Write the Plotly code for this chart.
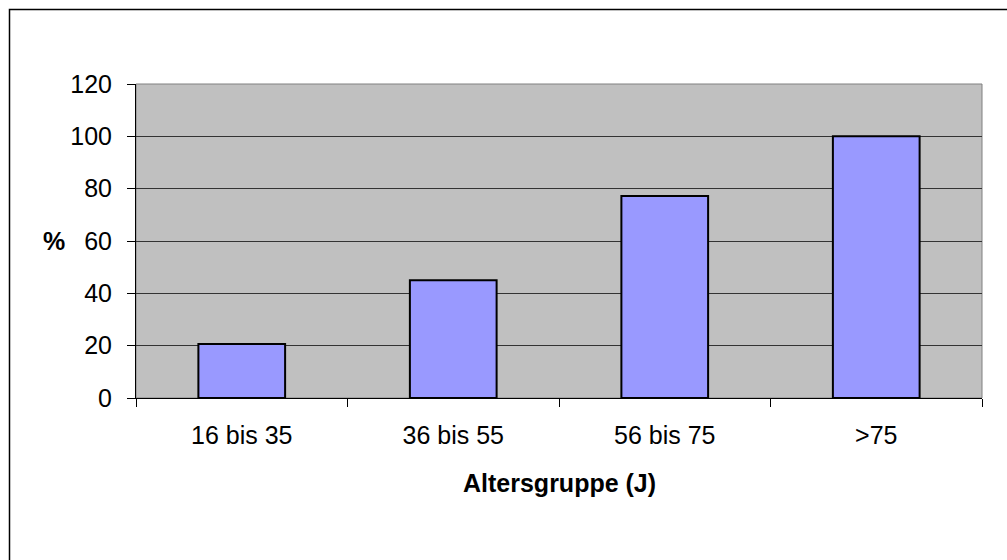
import plotly.graph_objects as go

categories = ["16 bis 35", "36 bis 55", "56 bis 75", ">75"]
values = [20.6, 45, 77.2, 100]
y_ticks = [0, 20, 40, 60, 80, 100, 120]

W, H = 1007, 560
L, R, T, B = 136, 25, 84, 162
pw, ph = W - L - R, H - T - B

def px_x(x):
    return (x - L) / pw

def px_y(y):
    return 1 - (y - T) / ph

FONT = "Liberation Sans, Arial, sans-serif"
FS = 25

fig = go.Figure(go.Bar(
    x=categories, y=values,
    marker=dict(color="#9999FF", line=dict(color="black", width=2)),
    width=0.41,
))

fig.update_layout(
    width=W, height=H,
    margin=dict(l=L, r=R, t=T, b=B, pad=0),
    paper_bgcolor="white", plot_bgcolor="#C0C0C0",
    font=dict(family=FONT, size=FS, color="black"),
    showlegend=False,
    xaxis=dict(
        type="category", tickson="boundaries", ticks="outside", ticklen=8,
        tickcolor="black", tickwidth=1, showline=True, linecolor="black", linewidth=1,
        showgrid=False, ticklabelstandoff=15, tickfont=dict(size=FS),
    ),
    yaxis=dict(
        range=[0, 120], tickvals=y_ticks, ticks="outside", ticklen=8,
        tickcolor="black", tickwidth=1, showline=True, linecolor="black", linewidth=1,
        showgrid=True, gridcolor="#333333", gridwidth=1, zeroline=False,
        ticklabelstandoff=10, tickfont=dict(size=FS),
    ),
    shapes=[
        dict(type="rect", xref="paper", yref="paper", x0=0, x1=1, y0=0, y1=1,
             line=dict(color="#808080", width=1), layer="below"),
        dict(type="rect", xref="paper", yref="paper",
             x0=px_x(9.5), x1=px_x(1015), y0=px_y(570), y1=px_y(9.5),
             line=dict(color="black", width=1.5)),
    ],
    annotations=[
        dict(text="<b>%</b>", xref="paper", yref="paper", x=px_x(54), y=0.5,
             xanchor="center", yanchor="middle", showarrow=False,
             font=dict(family=FONT, size=FS)),
        dict(text="<b>Altersgruppe (J)</b>", xref="paper", yref="paper",
             x=px_x(559), y=px_y(483), xanchor="center", yanchor="middle",
             showarrow=False, font=dict(family=FONT, size=FS)),
    ],
)

fig.write_html("out.html", config={"displayModeBar": False},
               post_script="document.body.style.margin='0';")
